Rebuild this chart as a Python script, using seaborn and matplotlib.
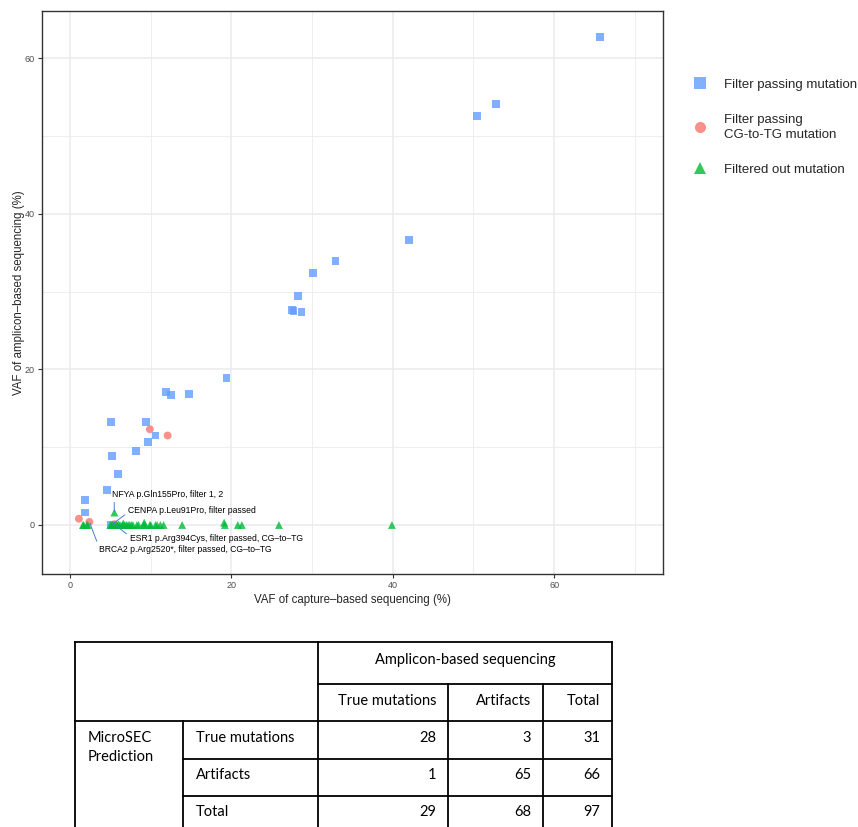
import numpy as np
import pandas as pd
import matplotlib
matplotlib.use("Agg")
import matplotlib.pyplot as plt
from matplotlib.lines import Line2D
import seaborn as sns

# ---------------- data ----------------
blue_capture = [65.7, 52.8, 50.4, 42.0, 32.9, 30.1, 28.3, 27.5, 27.7, 28.7, 19.4, 11.9, 12.5, 14.8,
                5.1, 9.4, 10.6, 9.7, 8.2, 5.2, 6.0, 4.6, 1.9, 1.9, 5.1]
blue_amplicon = [62.7, 54.1, 52.6, 36.6, 33.9, 32.4, 29.4, 27.6, 27.5, 27.4, 18.9, 17.1, 16.7, 16.8,
                 13.2, 13.2, 11.5, 10.7, 9.5, 8.9, 6.6, 4.5, 3.2, 1.6, 0.0]
red_capture = [1.1, 2.4, 5.5, 9.9, 12.1]
red_amplicon = [0.8, 0.4, 0.1, 12.3, 11.5]
green_capture = [1.6, 1.7, 2.1, 2.2, 5.0, 5.2, 5.3, 5.5, 5.6, 5.8, 6.0, 6.2, 6.5, 6.6, 6.8, 7.0,
                 7.2, 7.4, 7.6, 7.8, 8.3, 8.5, 9.1, 9.2, 9.3, 9.9, 10.0, 10.6, 10.8, 11.2, 11.6,
                 13.9, 19.1, 19.2, 20.8, 21.3, 25.9, 39.9]
green_amplicon = [0.0, 0.0, 0.0, 0.0, 0.0, 0.0, 0.0, 1.6, 0.0, 0.0, 0.1, 0.0, 0.0, 0.2, 0.0, 0.0,
                  0.0, 0.0, 0.0, 0.0, 0.0, 0.0, 0.0, 0.3, 0.0, 0.0, 0.0, 0.0, 0.0, 0.0, 0.0,
                  0.0, 0.3, 0.0, 0.0, 0.0, 0.0, 0.0]

categories = ["Filter passing mutation", "Filter passing\nCG-to-TG mutation", "Filtered out mutation"]
palette_colors = ["#619CFF", "#F8766D", "#00BA38"]
marker_shapes = ["s", "o", "^"]

labels_text = ["NFYA p.Gln155Pro, filter 1, 2", "CENPA p.Leu91Pro, filter passed",
               "ESR1 p.Arg394Cys, filter passed, CG\u2013to\u2013TG",
               "BRCA2 p.Arg2520*, filter passed, CG\u2013to\u2013TG"]
labels_point_x = [5.5, 5.1, 5.5, 2.4]
labels_point_y = [1.6, 0.0, 0.1, 0.4]
labels_text_x = [5.2, 7.2, 7.4, 3.6]
labels_text_y = [3.9, 1.9, -1.7, -3.1]

table_col_header = ["True mutations", "Artifacts", "Total"]
table_row_header = ["True mutations", "Artifacts", "Total"]
table_values = [[28, 3, 31], [1, 65, 66], [29, 68, 97]]

df = pd.DataFrame({
    "capture": blue_capture + red_capture + green_capture,
    "amplicon": blue_amplicon + red_amplicon + green_amplicon,
    "type": [categories[0]] * len(blue_capture) + [categories[1]] * len(red_capture)
            + [categories[2]] * len(green_capture),
})

# ---------------- style ----------------
sns.set_style("white")
plt.rcParams["font.family"] = ["Liberation Sans", "DejaVu Sans"]

W, H = 858, 827
fig = plt.figure(figsize=(W / 100, H / 100), dpi=100)
ax = fig.add_axes([42 / W, 1 - 574 / H, (663 - 42) / W, (574 - 11) / H])

pal = dict(zip(categories, palette_colors))
mk = dict(zip(categories, marker_shapes))
sns.scatterplot(data=df, x="capture", y="amplicon", hue="type", style="type",
                hue_order=categories, style_order=categories, palette=pal, markers=mk,
                s=32, alpha=0.8, linewidth=0, legend=False, ax=ax, zorder=3)

ax.set_xlim(-3.47, 73.5)
ax.set_ylim(-6.3, 66.07)
ax.set_xticks([0, 20, 40, 60])
ax.set_yticks([0, 20, 40, 60])
ax.set_xticks([10, 30, 50, 70], minor=True)
ax.set_yticks([10, 30, 50], minor=True)
ax.grid(which="major", color="#EBEBEB", lw=1.1, zorder=0)
ax.grid(which="minor", color="#EBEBEB", lw=0.6, zorder=0)
ax.set_axisbelow(True)
for sp in ax.spines.values():
    sp.set_color("#333333")
    sp.set_linewidth(1.0)
ax.tick_params(which="major", length=3, width=0.8, color="#333333", labelsize=6.5,
               labelcolor="#4D4D4D", pad=2, bottom=True, left=True)
ax.tick_params(which="minor", length=0)
ax.set_xlabel("VAF of capture\u2013based sequencing (%)", fontsize=8.3, labelpad=3)
ax.set_ylabel("VAF of amplicon\u2013based sequencing (%)", fontsize=8.3, labelpad=0)

# labels with segments (ggrepel style)
relpos = [(0.02, 0.0), (0.0, 0.25), (0.0, 0.7), (0.0, 0.7)]
for t, px, py, tx, ty, rp in zip(labels_text, labels_point_x, labels_point_y,
                                 labels_text_x, labels_text_y, relpos):
    ax.annotate(t, xy=(px, py), xytext=(tx, ty), fontsize=6.2, ha="left", va="center",
                color="black", zorder=5,
                arrowprops=dict(arrowstyle="-", color="#4A7FD0", lw=0.7, relpos=rp,
                                shrinkA=0, shrinkB=1))

# legend
handles = [Line2D([], [], marker=m, color=c, linestyle="none", markersize=8, alpha=0.8,
                  markeredgewidth=0)
           for m, c in zip(marker_shapes, palette_colors)]
leg = ax.legend(handles, categories, loc="upper left", bbox_to_anchor=(693.4 / W, 1 - 78.5 / H),
                bbox_transform=fig.transFigure, frameon=False, fontsize=9.5,
                handlelength=1.0, handletextpad=1.32, labelspacing=1.75, borderpad=0,
                borderaxespad=0)
for txt in leg.get_texts():
    txt.set_linespacing(1.3)

# ---------------- table ----------------
tab = fig.add_axes([0, 0, 1, 1])
tab.set_xlim(0, W)
tab.set_ylim(H, 0)
tab.axis("off")
lw_t = 1.3
hlines = [(642, 75, 612), (684, 318, 612), (721, 75, 612), (759, 183, 612), (796, 183, 612)]
vlines = [(75, 642, 835), (318, 642, 835), (612, 642, 835), (183, 721, 835),
          (448, 684, 835), (543, 684, 835)]
for y, x0, x1 in hlines:
    tab.plot([x0, x1], [y, y], color="black", lw=lw_t, solid_capstyle="projecting")
for x, y0, y1 in vlines:
    tab.plot([x, x], [y0, y1], color="black", lw=lw_t, solid_capstyle="projecting")

tf = dict(fontsize=10.5, family=["Lato", "DejaVu Sans"], color="black", va="center")
tab.text(465, 660, "Amplicon-based sequencing", ha="center", **tf)
col_right = [436, 531, 600]
for xr, h in zip(col_right, table_col_header):
    tab.text(xr, 701, h, ha="right", **tf)
tab.text(88, 738, "MicroSEC", ha="left", **tf)
tab.text(88, 757, "Prediction", ha="left", **tf)
row_y = [738, 775, 812]
for yy, rh, vals in zip(row_y, table_row_header, table_values):
    tab.text(196, yy, rh, ha="left", **tf)
    for xr, v in zip(col_right, vals):
        tab.text(xr, yy, str(v), ha="right", **tf)

fig.savefig("out.png", dpi=100)
